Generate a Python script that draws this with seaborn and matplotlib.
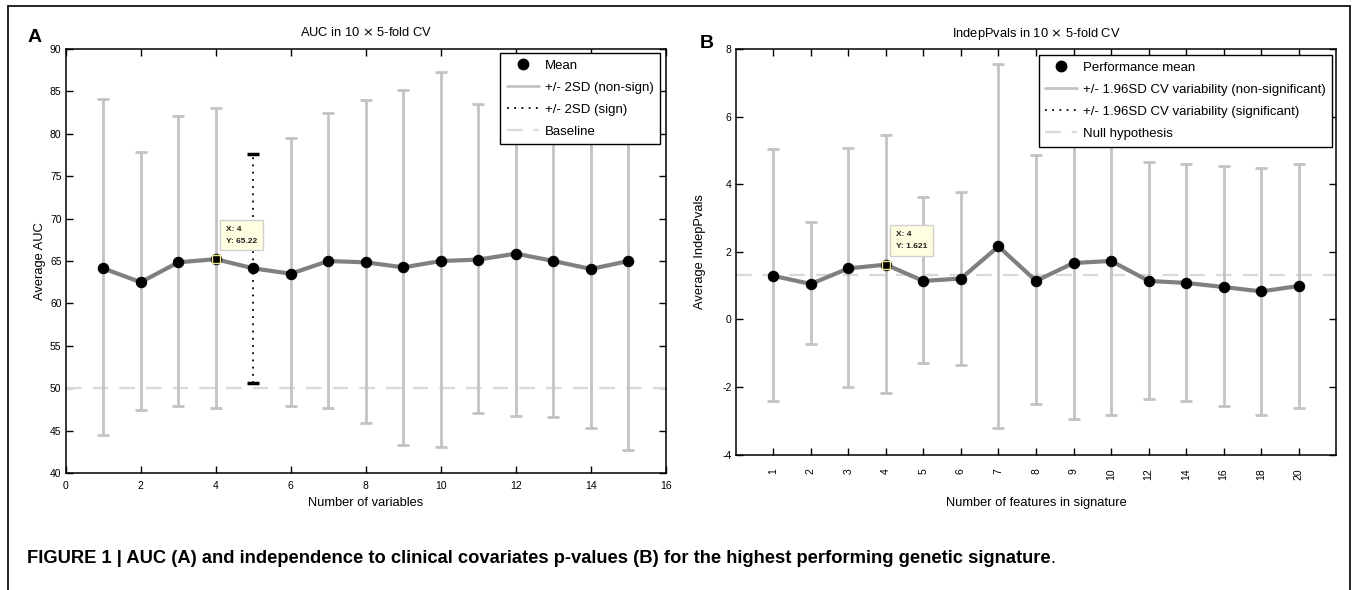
import numpy as np
import pandas as pd
import matplotlib
matplotlib.use("Agg")
import matplotlib.pyplot as plt
import seaborn as sns
from matplotlib.lines import Line2D

# ---------------- data ----------------
# Panel A: AUC in 10 x 5-fold CV
a_nvars = [1, 2, 3, 4, 5, 6, 7, 8, 9, 10, 11, 12, 13, 14, 15]
a_mean = [64.13, 62.5, 64.84, 65.22, 64.13, 63.5, 65.0, 64.84, 64.25, 65.0, 65.16, 65.87, 65.0, 64.06, 65.0]
a_upper = [84.1, 77.83, 82.05, 83.03, 77.6, 79.5, 82.5, 84.0, 85.2, 87.3, 83.5, 85.0, 83.4, 82.8, 87.3]
a_lower = [44.45, 47.38, 47.89, 47.66, 50.66, 47.89, 47.66, 45.94, 43.36, 43.09, 47.03, 46.76, 46.64, 45.31, 42.73]
a_significant = [False, False, False, False, True, False, False, False, False, False, False, False, False, False, False]
a_baseline = 50.0
a_tip = (4, 65.22)

# Panel B: IndepPvals in 10 x 5-fold CV
b_features = ["1", "2", "3", "4", "5", "6", "7", "8", "9", "10", "12", "14", "16", "18", "20"]
b_mean = [1.29, 1.05, 1.51, 1.621, 1.14, 1.21, 2.16, 1.14, 1.67, 1.73, 1.14, 1.08, 0.96, 0.83, 0.99]
b_upper = [5.04, 2.89, 5.08, 5.47, 3.62, 3.78, 7.56, 4.85, 6.28, 6.28, 4.67, 4.61, 4.55, 4.49, 4.61]
b_lower = [-2.42, -0.74, -2.01, -2.17, -1.30, -1.36, -3.22, -2.51, -2.94, -2.82, -2.36, -2.42, -2.57, -2.82, -2.61]
b_significant = [False] * 15
b_baseline = 1.301
b_tip = ("4", 1.621)

# ---------------- style ----------------
sns.set_style("ticks")
plt.rcParams["font.family"] = ["Liberation Sans", "DejaVu Sans"]
plt.rcParams["axes.linewidth"] = 1.0
plt.rcParams["axes.unicode_minus"] = False
for k in ["text.color", "axes.labelcolor", "xtick.color", "ytick.color", "axes.edgecolor"]:
    plt.rcParams[k] = "black"

W, H = 1356, 590
fig = plt.figure(figsize=(W / 100, H / 100), dpi=100)
fig.patch.set_facecolor("white")

axA = fig.add_axes([65.7 / W, 1 - 473 / H, 600.3 / W, 424 / H])
axB = fig.add_axes([735.7 / W, 1 - 454.7 / H, 600.6 / W, 405.7 / H])

NS_COLOR = "#c3c3c3"
LINE_COLOR = "#808080"
BASE_COLOR = "#d9d9d9"
LABEL_FS = 9.3


def draw_panel(ax, xpos, mean, lower, upper, sig, baseline, tip_x, tip_y, tip_label):
    mean = np.asarray(mean, float)
    lower = np.asarray(lower, float)
    upper = np.asarray(upper, float)
    sig = np.asarray(sig, bool)
    xpos = np.asarray(xpos, float)

    ax.axhline(baseline, color=BASE_COLOR, lw=1.6, ls=(0, (7, 5)), zorder=1)

    ns = ~sig
    if ns.any():
        ax.errorbar(xpos[ns], mean[ns], yerr=[mean[ns] - lower[ns], upper[ns] - mean[ns]],
                    fmt="none", ecolor=NS_COLOR, elinewidth=2.0, capsize=4.5, capthick=2.0, zorder=2)
    if sig.any():
        eb = ax.errorbar(xpos[sig], mean[sig], yerr=[mean[sig] - lower[sig], upper[sig] - mean[sig]],
                         fmt="none", ecolor="black", elinewidth=1.3, capsize=4, capthick=2.5, zorder=2)
        for lc in eb[2]:
            lc.set_linestyle((0, (1, 3)))

    df = pd.DataFrame({"x": xpos, "mean": mean})
    sns.lineplot(data=df, x="x", y="mean", ax=ax, color=LINE_COLOR, lw=3, marker="o",
                 markersize=7.5, markerfacecolor="black", markeredgecolor="black", zorder=3)

    # data tip
    ax.plot([tip_x], [tip_y], "s", ms=6, mfc="black", mec="#f0e68c", mew=1.0, zorder=6)
    ax.annotate(tip_label, xy=(tip_x, tip_y), xytext=(7.5, 10.5), textcoords="offset points",
                fontsize=6, ha="left", va="bottom", linespacing=2.0, fontweight="bold", color="#202020",
                bbox=dict(boxstyle="square,pad=0.7", fc="#ffffe1", ec="#cfcfcf", lw=1.0), zorder=7)

    ax.tick_params(direction="in", top=True, right=True, length=5, width=1,
                   labelsize=7.5, colors="black")
    for s in ax.spines.values():
        s.set_visible(True)
        s.set_color("black")
        s.set_linewidth(1.1)
    ax.set_facecolor("white")
    ax.grid(False)


# Panel A
draw_panel(axA, a_nvars, a_mean, a_lower, a_upper, a_significant, a_baseline,
           a_tip[0], a_tip[1], f"X: {a_tip[0]}\nY: {a_tip[1]:.2f}")
axA.set_xlim(0, 16)
axA.set_ylim(40, 90)
axA.set_xticks(np.arange(0, 17, 2))
axA.set_yticks(np.arange(40, 91, 5))
axA.tick_params(axis="x", pad=6)
axA.tick_params(axis="y", pad=3)
axA.set_title("AUC in 10 $\\times$ 5-fold CV", fontsize=LABEL_FS, pad=9)
axA.set_xlabel("Number of variables", fontsize=LABEL_FS)
axA.set_ylabel("Average AUC", fontsize=LABEL_FS)
axA.xaxis.set_label_coords(0.5, -0.057)
axA.yaxis.set_label_coords(-0.033, 0.5)

# Panel B
b_pos = np.arange(1, len(b_features) + 1)
tip_pos = b_pos[b_features.index(b_tip[0])]
draw_panel(axB, b_pos, b_mean, b_lower, b_upper, b_significant, b_baseline,
           tip_pos, b_tip[1], f"X: {b_tip[0]}\nY: {b_tip[1]:.3f}")
axB.set_xlim(0, 16)
axB.set_ylim(-4, 8)
axB.set_xticks(b_pos)
axB.set_xticklabels(b_features, rotation=90)
axB.set_yticks(np.arange(-4, 9, 2))
axB.tick_params(axis="x", pad=10)
axB.tick_params(axis="y", pad=3)
axB.set_title("IndepPvals in 10 $\\times$ 5-fold CV", fontsize=LABEL_FS, pad=9)
axB.set_xlabel("Number of features in signature", fontsize=LABEL_FS)
axB.set_ylabel("Average IndepPvals", fontsize=LABEL_FS)
axB.xaxis.set_label_coords(0.5, -0.104)
axB.yaxis.set_label_coords(-0.049, 0.5)


# legends
def make_legend(ax, labels, anchor):
    handles = [
        Line2D([], [], ls="none", marker="o", ms=7.5, mfc="black", mec="black"),
        Line2D([], [], color=NS_COLOR, lw=2),
        Line2D([], [], color="black", lw=1.3, ls=(0, (1, 3))),
        Line2D([], [], color=BASE_COLOR, lw=1.6, ls=(0, (7, 5))),
    ]
    leg = ax.legend(handles, labels, loc="upper right", bbox_to_anchor=anchor, borderaxespad=0,
                    fontsize=9.5, frameon=True, fancybox=False, shadow=False, handlelength=2.4,
                    handletextpad=0.45, labelspacing=0.74, borderpad=0.5)
    fr = leg.get_frame()
    fr.set_edgecolor("black")
    fr.set_linewidth(1.0)
    fr.set_facecolor("white")
    fr.set_alpha(1)
    leg.set_zorder(10)
    return leg


make_legend(axA, ["Mean", "+/- 2SD (non-sign)", "+/- 2SD (sign)", "Baseline"], (0.990, 0.9906))
make_legend(axB, ["Performance mean", "+/- 1.96SD CV variability (non-significant)",
                  "+/- 1.96SD CV variability (significant)", "Null hypothesis"], (0.993, 0.985))

# panel letters
fig.text(28 / W, 1 - 38 / H, "A", fontsize=14, fontweight="bold", va="center", ha="left")
fig.text(700 / W, 1 - 43 / H, "B", fontsize=14, fontweight="bold", va="center", ha="left")

# frame lines (page box)
for xs, ys in [([8 / W, 8 / W], [0, 1 - 6 / H]),
               ([8 / W, 1350 / W], [1 - 6 / H, 1 - 6 / H]),
               ([1350 / W, 1350 / W], [0, 1 - 6 / H])]:
    fig.add_artist(Line2D(xs, ys, color="black", lw=1.2, transform=fig.transFigure))

# caption
cap = fig.text(27 / W, 1 - 563 / H,
               "FIGURE 1 | AUC (A) and independence to clinical covariates p-values (B) for the highest performing genetic signature",
               fontsize=13.2, fontweight="bold", va="baseline", ha="left", color="black")
fig.canvas.draw()
bb = cap.get_window_extent()
fig.text(bb.x1 / W, 1 - 563 / H, ".", fontsize=13.2, va="baseline", ha="left", color="black")

fig.savefig("out.png", dpi=100, facecolor="white")
